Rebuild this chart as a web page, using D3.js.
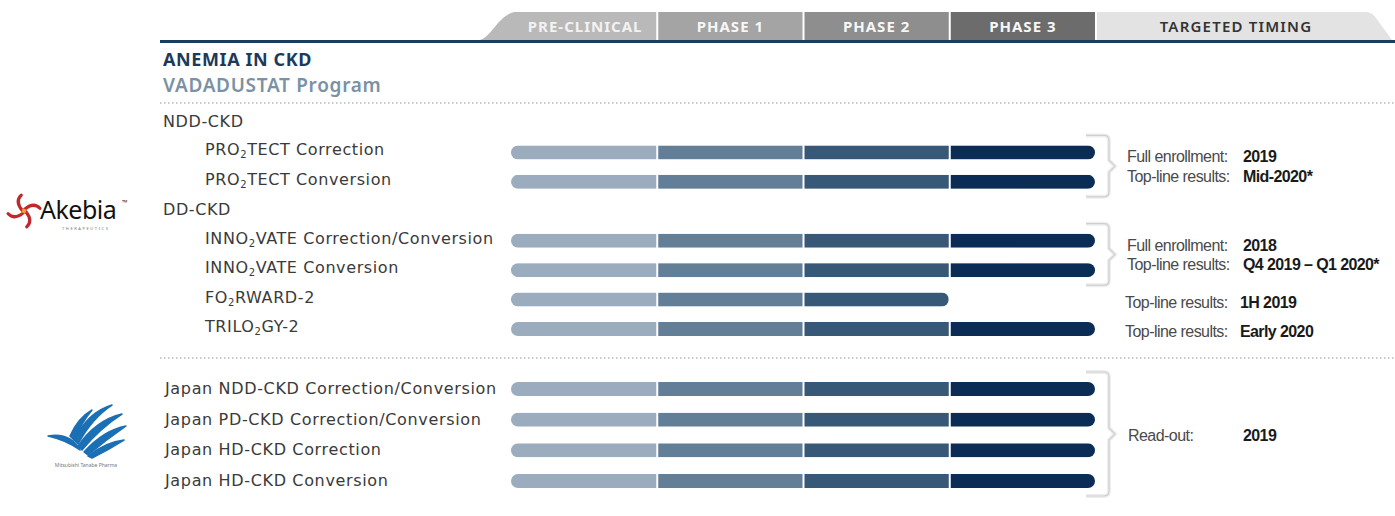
<!DOCTYPE html>
<html lang="en">
<head>
    <meta charset="utf-8">
    <title>Vadadustat pipeline</title>
    <script type="text/javascript" src="https://d3js.org/d3.v7.min.js"></script>
    <style type="text/css">
        body { margin: 0; background: #fff; }
        svg { display: block; }
        .lbl { font-family: "DejaVu Sans", "Noto Sans", sans-serif; font-size: 16px; letter-spacing: 0.6px; fill: #3a3a3a; }
        .lblj { letter-spacing: 0.65px; }
        .tim { font-family: "Liberation Sans", Arial, sans-serif; font-size: 16px; letter-spacing: -0.55px; fill: #4a4a4a; }
        .timv { font-family: "Liberation Sans", Arial, sans-serif; font-size: 16px; letter-spacing: -0.6px; font-weight: bold; fill: #1a1a1a; }
    </style>
</head>
<body>
<script type="text/javascript">

// phases shown in the header
var phases = ["PRE-CLINICAL", "PHASE 1", "PHASE 2", "PHASE 3"];
var timingHeader = "TARGETED TIMING";
var phaseColors = ["#9aacbd", "#637f98", "#385877", "#0b2d55"];
var tabColors = ["#b9b9b9", "#a4a4a4", "#8e8e8e", "#6c6c6c"];

// Akebia section rows (null progress = group heading)
var akebiaRows = [
    {name: "NDD-CKD", progress: null},
    {name: "PRO|TECT Correction", progress: 4},
    {name: "PRO|TECT Conversion", progress: 4},
    {name: "DD-CKD", progress: null},
    {name: "INNO|VATE Correction/Conversion", progress: 4},
    {name: "INNO|VATE Conversion", progress: 4},
    {name: "FO|RWARD-2", progress: 3},
    {name: "TRILO|GY-2", progress: 4}
];

// Japan section rows
var japanRows = [
    {name: "Japan NDD-CKD Correction/Conversion", progress: 4},
    {name: "Japan PD-CKD Correction/Conversion", progress: 4},
    {name: "Japan HD-CKD Correction", progress: 4},
    {name: "Japan HD-CKD Conversion", progress: 4}
];

// targeted timing notes
var timingNotes = [
    {rows: ["PRO|TECT Correction", "PRO|TECT Conversion"], bracket: true,
        lines: [["Full enrollment:", "2019"], ["Top-line results:", "Mid-2020*"]]},
    {rows: ["INNO|VATE Correction/Conversion", "INNO|VATE Conversion"], bracket: true,
        lines: [["Full enrollment:", "2018"], ["Top-line results:", "Q4 2019 \u2013 Q1 2020*"]]},
    {rows: ["FO|RWARD-2"], bracket: false, lines: [["Top-line results:", "1H 2019"]]},
    {rows: ["TRILO|GY-2"], bracket: false, lines: [["Top-line results:", "Early 2020"]]}
];
var japanNote = [["Read-out:", "2019"]];

var W = 1395, H = 516;
var svg = d3.select("body").append("svg").attr("width", W).attr("height", H);

var x = d3.scaleLinear().domain([0, 4]).range([511, 1096]);
var yA = d3.scalePoint().domain(akebiaRows.map(function(d){ return d.name; })).range([122, 328]);
var yJ = d3.scalePoint().domain(japanRows.map(function(d){ return d.name; })).range([389, 481]);

// ---- header tabs
var tabTop = 12, tabBot = 40;
var tabs = svg.append("g");
tabs.append("path")
    .attr("d", "M" + (x(4) + 1) + "," + tabBot + "V" + tabTop + "H1366 Q1372,12 1376,18 L1392," + tabBot + "Z")
    .attr("fill", "#e3e3e3");
phases.forEach(function(p, i) {
    var x0 = x(i) + 1, x1 = x(i + 1) - 1;
    var d;
    if (i === 0) {
        d = "M480," + tabBot + " C492,36 498," + (tabTop + 4) + " 514," + tabTop + " H" + x1 + " V" + tabBot + "Z";
    } else {
        d = "M" + x0 + "," + tabBot + "V" + tabTop + "H" + x1 + "V" + tabBot + "Z";
    }
    tabs.append("path").attr("d", d).attr("fill", tabColors[i]);
    tabs.append("text")
        .attr("x", i === 0 ? (x(0) + x(1)) / 2 + 1 : (x0 + x1) / 2)
        .attr("y", 32)
        .attr("text-anchor", "middle")
        .attr("font-family", "'Noto Sans', sans-serif")
        .attr("font-weight", "bold")
        .attr("font-size", 15)
        .attr("letter-spacing", 1)
        .attr("fill", i === 0 ? "#f2f2f2" : "#f7f7f7")
        .text(p);
});
tabs.append("text")
    .attr("x", (x(4) + 1376) / 2)
    .attr("y", 32)
    .attr("text-anchor", "middle")
    .attr("font-family", "'Noto Sans', sans-serif")
    .attr("font-weight", 600)
    .attr("font-size", 15)
    .attr("letter-spacing", 1.2)
    .attr("fill", "#333")
    .text(timingHeader);

svg.append("rect").attr("x", 160).attr("y", 40).attr("width", W - 160).attr("height", 3).attr("fill", "#1c3c5e");

// ---- titles
svg.append("text").attr("x", 163).attr("y", 66)
    .attr("font-family", "'Noto Sans', sans-serif").attr("font-weight", "bold").attr("font-size", 18)
    .attr("letter-spacing", 0.6).attr("fill", "#1c3a5c").text("ANEMIA IN CKD");
svg.append("text").attr("x", 163).attr("y", 92)
    .attr("font-family", "'Noto Sans', sans-serif").attr("font-weight", 600).attr("font-size", 19)
    .attr("letter-spacing", 0.7).attr("fill", "#7b91a5").text("VADADUSTAT Program");

function dotted(y) {
    svg.append("line").attr("x1", 160).attr("x2", W).attr("y1", y).attr("y2", y)
        .attr("stroke", "#b8b8b8").attr("stroke-width", 1.5).attr("stroke-dasharray", "1.5,2.5");
}
dotted(103);
dotted(358);

// ---- labels with subscript 2
function label(g, d, xx, yy, cls) {
    var t = g.append("text").attr("class", cls).attr("x", xx).attr("y", yy + 5);
    var parts = d.name.split("|");
    t.append("tspan").text(parts[0]);
    if (parts.length > 1) {
        t.append("tspan").attr("font-size", 10).attr("dy", 3).text("2");
        t.append("tspan").attr("dy", -3).text(parts[1]);
    }
}

var defs = svg.append("defs");
var barH = 14;
function bar(g, d, yy, id) {
    var x0 = x(0), x1 = x(d.progress) - 1;
    defs.append("clipPath").attr("id", "clip" + id)
        .append("rect").attr("x", x0).attr("y", yy - barH / 2)
        .attr("width", x1 - x0).attr("height", barH).attr("rx", barH / 2);
    var bg = g.append("g").attr("clip-path", "url(#clip" + id + ")");
    bg.selectAll("rect").data(d3.range(d.progress)).join("rect")
        .attr("x", function(i){ return x(i) + (i === 0 ? 0 : 1); })
        .attr("width", function(i){ return x(i + 1) - x(i) - (i === 0 ? 1 : 2); })
        .attr("y", yy - barH / 2)
        .attr("height", barH)
        .attr("fill", function(i){ return phaseColors[i]; });
}

var gA = svg.append("g");
akebiaRows.forEach(function(d, i) {
    var yy = yA(d.name);
    if (d.progress === null) {
        label(gA, d, 163, yy, "lbl");
    } else {
        label(gA, d, 205, yy - 1, "lbl");
        bar(gA, d, yy + 1, "a" + i);
    }
});
var gJ = svg.append("g");
japanRows.forEach(function(d, i) {
    var yy = yJ(d.name);
    label(gJ, d, 165, yy, "lbl lblj");
    bar(gJ, d, yy, "j" + i);
});

// ---- brackets and timing
function bracket(top, bot) {
    var mid = (top + bot) / 2, bx = 1109;
    var p = "M1086," + top + " H" + (bx - 5) + " Q" + bx + "," + top + " " + bx + "," + (top + 5) +
        " V" + (mid - 6) + " L" + (bx + 6) + "," + mid + " L" + bx + "," + (mid + 6) +
        " V" + (bot - 5) + " Q" + bx + "," + bot + " " + (bx - 5) + "," + bot + " H1086";
    svg.append("path").attr("d", p).attr("fill", "none").attr("stroke", "#eeeeee").attr("stroke-width", 4);
    svg.append("path").attr("d", p).attr("fill", "none").attr("stroke", "#cfcfcf").attr("stroke-width", 1.2);
}

timingNotes.forEach(function(n) {
    var ys = n.rows.map(function(r){ return yA(r) + 1; });
    var top = d3.min(ys), bot = d3.max(ys);
    var tx = n.bracket ? 1127 : 1125, vx = n.bracket ? 1243 : 1240;
    if (n.bracket) {
        bracket(top - 17, bot + 15);
        top += 4; bot -= 6;
    }
    var ly = n.lines.length > 1 ? d3.scaleLinear().domain([0, n.lines.length - 1]).range([top, bot]) : function(){ return top + 2; };
    n.lines.forEach(function(l, k) {
        svg.append("text").attr("class", "tim").attr("x", tx).attr("y", ly(k) + 6).text(l[0]);
        svg.append("text").attr("class", "timv").attr("x", vx).attr("y", ly(k) + 6).text(l[1]);
    });
});
var jTop = yJ(japanRows[0].name), jBot = yJ(japanRows[japanRows.length - 1].name);
bracket(jTop - 17, jBot + 15);
svg.append("text").attr("class", "tim").attr("x", 1128).attr("y", (jTop + jBot) / 2 + 6).text(japanNote[0][0]);
svg.append("text").attr("class", "timv").attr("x", 1243).attr("y", (jTop + jBot) / 2 + 6).text(japanNote[0][1]);

// ---- logos
var ak = svg.append("g").attr("transform", "translate(24,211)");
[0, 1, 2, 3].forEach(function(k) {
    ak.append("path")
        .attr("d", "M0,-2 Q6,-12 14,-8")
        .attr("transform", "rotate(" + (k * 90 + 20) + ")")
        .attr("fill", "none").attr("stroke", "#c0282d").attr("stroke-width", 3.2).attr("stroke-linecap", "round");
});
ak.append("circle").attr("r", 2.2).attr("fill", "#f1a01f");
svg.append("text").attr("x", 40).attr("y", 219).attr("font-family", "'Noto Sans', sans-serif")
    .attr("font-size", 25).attr("fill", "#111").attr("letter-spacing", -0.5).text("Akebia");
svg.append("text").attr("x", 122).attr("y", 205).attr("font-family", "'Noto Sans', sans-serif")
    .attr("font-size", 7).attr("fill", "#333").text("\u2122");
svg.append("text").attr("x", 62).attr("y", 230).attr("font-family", "'Noto Sans', sans-serif")
    .attr("font-size", 4).attr("letter-spacing", 1.6).attr("fill", "#777").text("THERAPEUTICS");

var mt = svg.append("g");
var swoosh = [
    "M48,436 Q70,432 80,450 Q66,440 48,436Z",
    "M74,440 Q88,412 112,405 Q92,418 78,444Z",
    "M78,446 Q96,420 122,414 Q100,428 82,450Z",
    "M84,452 Q104,430 126,426 Q106,440 88,455Z",
    "M88,456 Q106,442 124,440 Q108,450 92,458Z",
    "M70,436 Q78,418 92,410 Q82,422 74,440Z"
];
mt.selectAll("path").data(swoosh).join("path").attr("d", function(d){ return d; })
    .attr("fill", "#1b6fb4").attr("stroke", "#1b6fb4").attr("stroke-width", 1.5).attr("stroke-linejoin", "round");
svg.append("text").attr("x", 86).attr("y", 467).attr("text-anchor", "middle")
    .attr("font-family", "'Noto Sans', sans-serif").attr("font-size", 5).attr("fill", "#777")
    .text("Mitsubishi Tanabe Pharma");

</script>
</body>
</html>
